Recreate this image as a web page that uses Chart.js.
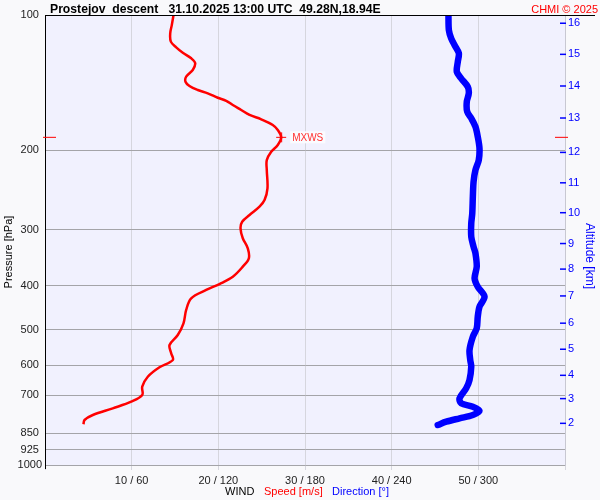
<!DOCTYPE html>
<html>
<head>
<meta charset="utf-8">
<script src="https://cdn.jsdelivr.net/npm/chart.js@4/dist/chart.umd.min.js"></script>
<style>
  html, body { margin: 0; padding: 0; background: #f9f9fb; }
  #wrap { width: 600px; height: 500px; }
</style>
</head>
<body>
<div id="wrap"><canvas id="c" width="600" height="500"></canvas></div>
<script>
// pressure ticks on the left axis [hPa]
const PRESSURE_TICKS = [100, 200, 300, 400, 500, 600, 700, 850, 925, 1000];
// altitude ticks on the right axis: km and the pressure level where they sit
const ALT_KM       = [16, 15, 14, 13, 12, 11, 10, 9, 8, 7, 6, 5, 4, 3, 2];
const ALT_PRESSURE = [104.3, 122.3, 143.8, 169.4, 202, 236, 275, 322, 367, 421, 484, 553, 632, 712, 808];
// x tick labels: speed m/s / direction deg
const X_TICKS = [10, 20, 30, 40, 50];

// wind speed profile
const SPEED_P = [100, 105.3, 109.8, 114.6, 118.0, 121.3, 124.8, 128.0, 132.5, 137.1, 140.7, 143.8, 146.8,
  149.3, 152.7, 155.1, 158.5, 162.6, 166.8, 170.5, 175.5, 180.1, 187.0, 194.5, 201.3, 210.1, 221.1,
  242.8, 257.8, 266.7, 278.3, 288.0, 297.9, 313.4, 330.0, 347.3, 362.5, 381.6, 396.1, 408.4, 426.1,
  452.4, 484.4, 514.2, 541.2, 564.7, 584.4, 606.6, 636.5, 669.9, 699.0, 723.4, 748.2, 774.3, 794.3, 812.0];
const SPEED = [14.83, 14.63, 14.45, 14.52, 15.14, 15.90, 16.87, 17.33, 17.05, 16.29, 16.21, 16.67, 17.63,
  18.78, 19.94, 20.91, 21.67, 22.64, 23.60, 24.95, 26.28, 26.86, 27.25, 26.86, 26.10, 25.59, 25.59,
  25.67, 25.33, 24.75, 23.60, 22.75, 22.56, 22.82, 23.40, 23.52, 22.82, 21.67, 20.13, 18.60, 16.87,
  16.29, 15.98, 15.32, 14.37, 14.56, 14.75, 13.21, 11.86, 11.22, 11.22, 9.95, 7.82, 5.52, 4.56, 4.44];

// wind direction profile
const DIR_P = [100, 108.0, 112.7, 116.6, 121.6, 127.0, 133.7, 138.3, 144.3, 149.3, 155.9, 164.0, 169.6,
  177.1, 186.4, 197.8, 210.1, 221.1, 234.7, 253.4, 275.9, 290.4, 311.0, 327.3, 338.5, 362.5, 384.7,
  401.7, 422.7, 444.9, 468.3, 496.9, 518.7, 555.3, 584.4, 604.7, 647.3, 675.4, 710.9, 729.3, 742.1,
  757.5, 774.3, 787.5, 801.3, 814.9];
const DIR = [279.3, 279.6, 281.2, 283.5, 286.5, 285.8, 285.1, 288.1, 292.7, 293.4, 292.0, 292.3, 295.1,
  298.0, 299.6, 300.8, 300.3, 298.0, 296.7, 296.2, 295.8, 295.1, 295.1, 296.7, 298.0, 298.9, 297.4,
  299.6, 304.3, 300.8, 299.6, 298.9, 296.2, 293.9, 294.4, 295.1, 293.9, 291.6, 287.0, 288.1, 296.2,
  300.8, 296.2, 287.0, 277.8, 271.9];

// maximum wind
const MXWS_P = 187;
const MXWS_SPEED = 27.25;

const FONT = "'Liberation Sans', Arial, sans-serif";

const decor = {
  id: 'decor',
  beforeDraw(chart) {
    const { ctx, chartArea: a } = chart;
    ctx.save();
    ctx.fillStyle = '#f9f9fb';
    ctx.fillRect(0, 0, chart.width, chart.height);
    ctx.fillStyle = '#f1f1fe';
    ctx.fillRect(a.left, a.top, a.right - a.left, a.bottom - a.top);
    ctx.restore();
  },
  afterDraw(chart) {
    const { ctx, chartArea: a, scales } = chart;
    ctx.save();
    // frame
    ctx.strokeStyle = '#000';
    ctx.lineWidth = 1;
    ctx.beginPath();
    ctx.moveTo(a.left, a.top + 0.5); ctx.lineTo(595, a.top + 0.5);
    ctx.moveTo(a.left + 0.5, a.top); ctx.lineTo(a.left + 0.5, a.bottom + 4);
    ctx.stroke();

    // altitude tick marks inside the plot
    ctx.strokeStyle = '#0000ff';
    ctx.lineWidth = 1.5;
    ALT_PRESSURE.forEach(p => {
      const y = scales.y.getPixelForValue(p);
      ctx.beginPath();
      ctx.moveTo(a.right - 5, y); ctx.lineTo(a.right + 1, y);
      ctx.stroke();
    });

    // max wind marker
    const my = scales.y.getPixelForValue(MXWS_P);
    const mx = scales.x.getPixelForValue(MXWS_SPEED);
    ctx.strokeStyle = '#ff0000';
    ctx.lineWidth = 1;
    ctx.beginPath();
    ctx.moveTo(a.left - 2, my); ctx.lineTo(a.left + 11, my);
    ctx.moveTo(a.right - 10, my); ctx.lineTo(a.right + 3, my);
    ctx.moveTo(mx - 5, my); ctx.lineTo(mx + 5, my);
    ctx.moveTo(mx + 0.5, my - 5); ctx.lineTo(mx + 0.5, my + 5);
    ctx.stroke();
    ctx.font = '10px ' + FONT;
    ctx.textBaseline = 'middle';
    ctx.textAlign = 'left';
    const tw = ctx.measureText('MXWS').width;
    ctx.fillStyle = '#fbfbff';
    ctx.fillRect(mx + 9, my - 6, tw + 4, 12);
    ctx.fillStyle = '#ff3030';
    ctx.fillText('MXWS', mx + 11, my + 0.5);

    // header
    ctx.textBaseline = 'alphabetic';
    ctx.fillStyle = '#000';
    ctx.font = 'bold 12.2px ' + FONT;
    ctx.fillText('Prostejov  descent   31.10.2025 13:00 UTC  49.28N,18.94E', 50, 13);
    ctx.fillStyle = '#ff0000';
    ctx.font = '11px ' + FONT;
    ctx.textAlign = 'right';
    ctx.fillText('CHMI © 2025', 598, 13);

    // bottom caption
    ctx.textAlign = 'left';
    ctx.fillStyle = '#000';
    ctx.fillText('WIND', 225, 494.5);
    ctx.fillStyle = '#ff0000';
    ctx.fillText('Speed [m/s]', 264, 494.5);
    ctx.fillStyle = '#0000ff';
    ctx.fillText('Direction [°]', 332, 494.5);

    // axis titles
    ctx.textAlign = 'center';
    ctx.textBaseline = 'middle';
    ctx.fillStyle = '#000';
    ctx.save();
    ctx.translate(9, 252);
    ctx.rotate(-Math.PI / 2);
    ctx.fillText('Pressure [hPa]', 0, 0);
    ctx.restore();
    ctx.fillStyle = '#0000ff';
    ctx.font = '12px ' + FONT;
    ctx.save();
    ctx.translate(589, 256);
    ctx.rotate(Math.PI / 2);
    ctx.fillText('Altitude [km]', 0, 0);
    ctx.restore();
    ctx.restore();
  }
};

Chart.defaults.font.family = FONT;
Chart.defaults.font.size = 11;
Chart.defaults.color = '#222';

new Chart(document.getElementById('c'), {
  type: 'scatter',
  data: {
    datasets: [
      {
        label: 'Speed',
        data: SPEED_P.map((p, i) => ({ x: SPEED[i], y: p })),
        showLine: true,
        tension: 0.35,
        borderColor: '#ff0000',
        borderWidth: 2.5,
        pointRadius: 0,
        xAxisID: 'x',
        yAxisID: 'y',
      },
      {
        label: 'Direction',
        data: DIR_P.map((p, i) => ({ x: DIR[i], y: p })),
        showLine: true,
        tension: 0.3,
        borderColor: '#0000ff',
        borderWidth: 6.5,
        borderCapStyle: 'round',
        borderJoinStyle: 'round',
        pointRadius: 0,
        xAxisID: 'x2',
        yAxisID: 'y',
      },
    ],
  },
  options: {
    responsive: false,
    animation: false,
    events: [],
    layout: { padding: { top: 15, left: 0, right: 0, bottom: 0 } },
    plugins: { legend: { display: false }, tooltip: { enabled: false } },
    scales: {
      x: {
        type: 'linear', min: 0, max: 60,
        afterBuildTicks: s => { s.ticks = [0, ...X_TICKS, 60].map(v => ({ value: v })); },
        afterFit: s => { s.height = 35; },
        ticks: {
          padding: 4,
          autoSkip: false,
          maxRotation: 0,
          callback: v => X_TICKS.includes(v) ? `${v} / ${v * 6}` : '',
        },
        grid: { color: '#d6d6de', tickLength: 5 },
        border: { display: false },
      },
      x2: { type: 'linear', min: 0, max: 360, display: false },
      y: {
        type: 'logarithmic', position: 'left', reverse: true, min: 100, max: 1000,
        afterBuildTicks: s => { s.ticks = PRESSURE_TICKS.map(v => ({ value: v })); },
        afterFit: s => { s.width = 45; },
        ticks: {
          padding: 3,
          crossAlign: 'center',
          autoSkip: false,
          callback: v => String(v),
        },
        grid: { color: '#a4a4a8', drawTicks: false },
        border: { color: '#000' },
      },
      alt: {
        type: 'logarithmic', position: 'right', reverse: true, min: 100, max: 1000,
        afterBuildTicks: s => { s.ticks = ALT_PRESSURE.map(v => ({ value: v })); },
        afterFit: s => { s.width = 35; },
        ticks: {
          padding: 3,
          color: '#0000ff',
          autoSkip: false,
          callback: (v, i) => String(ALT_KM[i]),
        },
        grid: { drawOnChartArea: false, drawTicks: false },
        border: { color: '#c8c8d2' },
      },
    },
  },
  plugins: [decor],
});
</script>
</body>
</html>
